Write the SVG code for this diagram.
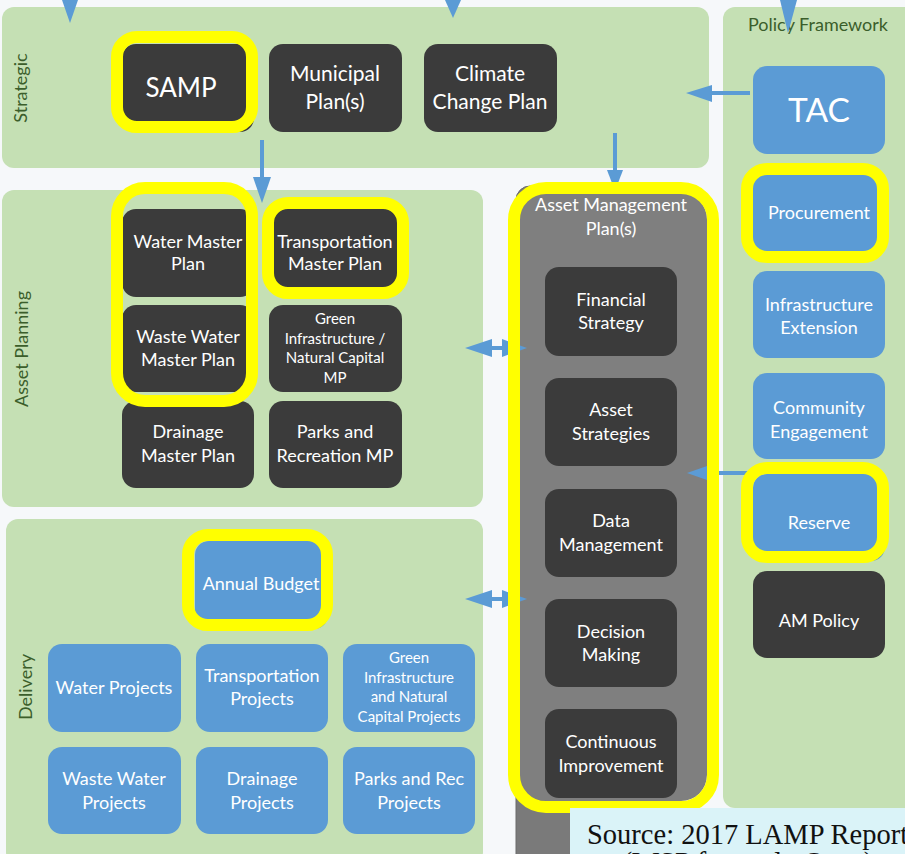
<svg xmlns="http://www.w3.org/2000/svg" width="905" height="854" viewBox="0 0 905 854">
  <style>
    .panel { fill: #c5e0b4; }
    .dark { fill: #3b3b3b; }
    .blue { fill: #5b9bd5; }
    .ring { fill: none; stroke: #ffff00; stroke-width: 12; }
    .lbl { font-family: Lato, "Liberation Sans", sans-serif; fill: #ffffff; text-anchor: middle; font-size: 18px; }
    .sm { font-size: 15px; }
    .zone { font-family: Lato, "Liberation Sans", sans-serif; fill: #3b5e2b; text-anchor: middle; font-size: 18px; }
    .conn { stroke: #5b9bd5; stroke-width: 4; fill: none; }
    .head { fill: #5b9bd5; }
    .src { font-family: "Liberation Serif", serif; font-size: 28.5px; fill: #111111; }
  </style>

  <rect x="0" y="0" width="905" height="854" fill="#f6f8fa"/>

  <!-- zone panels -->
  <g id="strategic">
    <rect class="panel" x="2" y="7" width="707" height="161" rx="12"/>
    <text class="zone" transform="translate(27 88) rotate(-90)">Strategic</text>
  </g>
  <g id="policy-framework">
    <rect class="panel" x="723" y="7" width="200" height="801" rx="12"/>
    <text class="zone" x="818" y="31">Policy Framework</text>
  </g>
  <g id="asset-planning">
    <rect class="panel" x="2" y="190" width="481" height="317" rx="12"/>
    <text class="zone" transform="translate(28 349) rotate(-90)">Asset Planning</text>
  </g>
  <g id="delivery">
    <rect class="panel" x="6" y="519" width="477" height="345" rx="12"/>
    <text class="zone" transform="translate(32 687) rotate(-90)">Delivery</text>
  </g>

  <!-- backing sheet behind the asset management plans -->
  <rect x="516" y="186" width="120" height="690" rx="14" fill="#7a7a7a" stroke="#6a6a6a" stroke-width="1"/>

  <!-- strategic nodes -->
  <g id="samp">
    <rect class="dark" x="122" y="44" width="132" height="88" rx="14"/>
    <text class="lbl" x="181" y="97" style="font-size:26px">SAMP</text>
  </g>
  <g id="municipal-plans">
    <rect class="dark" x="269" y="44" width="133" height="88" rx="14"/>
    <text class="lbl" x="335" y="81" style="font-size:21px">Municipal</text>
    <text class="lbl" x="335" y="109" style="font-size:21px">Plan(s)</text>
  </g>
  <g id="climate-change-plan">
    <rect class="dark" x="424" y="44" width="133" height="88" rx="14"/>
    <text class="lbl" x="490" y="81" style="font-size:21px">Climate</text>
    <text class="lbl" x="490" y="109" style="font-size:21px">Change Plan</text>
  </g>

  <!-- policy nodes -->
  <g id="tac">
    <rect class="blue" x="753" y="66" width="132" height="88" rx="14"/>
    <text class="lbl" x="819" y="122" style="font-size:33.5px">TAC</text>
  </g>
  <g id="procurement">
    <rect class="blue" x="753" y="169" width="132" height="88" rx="14"/>
    <text class="lbl" x="819" y="219">Procurement</text>
  </g>
  <g id="infrastructure-extension">
    <rect class="blue" x="753" y="271" width="132" height="87" rx="14"/>
    <text class="lbl" x="819" y="311">Infrastructure</text>
    <text class="lbl" x="819" y="334">Extension</text>
  </g>
  <g id="community-engagement">
    <rect class="blue" x="753" y="373" width="132" height="86" rx="14"/>
    <text class="lbl" x="819" y="414">Community</text>
    <text class="lbl" x="819" y="438">Engagement</text>
  </g>
  <g id="reserve">
    <rect class="blue" x="753" y="474" width="132" height="87" rx="14"/>
    <text class="lbl" x="819" y="529">Reserve</text>
  </g>
  <g id="am-policy">
    <rect class="dark" x="753" y="571" width="132" height="87" rx="14"/>
    <text class="lbl" x="819" y="627">AM Policy</text>
  </g>

  <!-- asset planning nodes -->
  <g id="water-master-plan">
    <rect class="dark" x="122" y="209" width="132" height="88" rx="14"/>
    <text class="lbl" x="188" y="248">Water Master</text>
    <text class="lbl" x="188" y="270">Plan</text>
  </g>
  <g id="waste-water-master-plan">
    <rect class="dark" x="122" y="305" width="132" height="87" rx="14"/>
    <text class="lbl" x="188" y="343">Waste Water</text>
    <text class="lbl" x="188" y="366">Master Plan</text>
  </g>
  <g id="drainage-master-plan">
    <rect class="dark" x="122" y="401" width="132" height="87" rx="14"/>
    <text class="lbl" x="188" y="438">Drainage</text>
    <text class="lbl" x="188" y="462">Master Plan</text>
  </g>
  <g id="transportation-master-plan">
    <rect class="dark" x="269" y="209" width="133" height="87" rx="14"/>
    <text class="lbl" x="335" y="248">Transportation</text>
    <text class="lbl" x="335" y="270">Master Plan</text>
  </g>
  <g id="green-infrastructure-mp">
    <rect class="dark" x="269" y="305" width="133" height="87" rx="14"/>
    <text class="lbl sm" x="335" y="324">Green</text>
    <text class="lbl sm" x="335" y="344">Infrastructure /</text>
    <text class="lbl sm" x="335" y="363">Natural Capital</text>
    <text class="lbl sm" x="335" y="383">MP</text>
  </g>
  <g id="parks-recreation-mp">
    <rect class="dark" x="269" y="401" width="133" height="87" rx="14"/>
    <text class="lbl" x="335" y="438">Parks and</text>
    <text class="lbl" x="335" y="462">Recreation MP</text>
  </g>

  <!-- delivery nodes -->
  <g id="annual-budget">
    <rect class="blue" x="195" y="541" width="133" height="88" rx="14"/>
    <text class="lbl" x="261" y="590">Annual Budget</text>
  </g>
  <g id="water-projects">
    <rect class="blue" x="48" y="644" width="133" height="88" rx="14"/>
    <text class="lbl" x="114" y="694">Water Projects</text>
  </g>
  <g id="transportation-projects">
    <rect class="blue" x="196" y="644" width="132" height="88" rx="14"/>
    <text class="lbl" x="262" y="682">Transportation</text>
    <text class="lbl" x="262" y="705">Projects</text>
  </g>
  <g id="green-capital-projects">
    <rect class="blue" x="343" y="644" width="132" height="88" rx="14"/>
    <text class="lbl sm" x="409" y="663">Green</text>
    <text class="lbl sm" x="409" y="683">Infrastructure</text>
    <text class="lbl sm" x="409" y="702">and Natural</text>
    <text class="lbl sm" x="409" y="722">Capital Projects</text>
  </g>
  <g id="waste-water-projects">
    <rect class="blue" x="48" y="747" width="133" height="87" rx="14"/>
    <text class="lbl" x="114" y="785">Waste Water</text>
    <text class="lbl" x="114" y="809">Projects</text>
  </g>
  <g id="drainage-projects">
    <rect class="blue" x="196" y="747" width="132" height="87" rx="14"/>
    <text class="lbl" x="262" y="785">Drainage</text>
    <text class="lbl" x="262" y="809">Projects</text>
  </g>
  <g id="parks-rec-projects">
    <rect class="blue" x="343" y="747" width="132" height="87" rx="14"/>
    <text class="lbl" x="409" y="785">Parks and Rec</text>
    <text class="lbl" x="409" y="809">Projects</text>
  </g>

  <!-- asset management plans container -->
  <g id="asset-management-plans">
    <rect x="520" y="193" width="187" height="608" rx="26" fill="#7f7f7f"/>
    <text class="lbl" x="611" y="211">Asset Management</text>
    <text class="lbl" x="611" y="235">Plan(s)</text>
  </g>
  <g id="financial-strategy">
    <rect class="dark" x="545" y="267" width="132" height="89" rx="14"/>
    <text class="lbl" x="611" y="306">Financial</text>
    <text class="lbl" x="611" y="329">Strategy</text>
  </g>
  <g id="asset-strategies">
    <rect class="dark" x="545" y="378" width="132" height="88" rx="14"/>
    <text class="lbl" x="611" y="416">Asset</text>
    <text class="lbl" x="611" y="440">Strategies</text>
  </g>
  <g id="data-management">
    <rect class="dark" x="545" y="489" width="132" height="88" rx="14"/>
    <text class="lbl" x="611" y="527">Data</text>
    <text class="lbl" x="611" y="551">Management</text>
  </g>
  <g id="decision-making">
    <rect class="dark" x="545" y="599" width="132" height="88" rx="14"/>
    <text class="lbl" x="611" y="638">Decision</text>
    <text class="lbl" x="611" y="661">Making</text>
  </g>
  <g id="continuous-improvement">
    <rect class="dark" x="545" y="709" width="132" height="89" rx="14"/>
    <text class="lbl" x="611" y="748">Continuous</text>
    <text class="lbl" x="611" y="772">Improvement</text>
  </g>

  <!-- connectors -->
  <g id="connectors">
    <!-- incoming from above -->
    <polygon class="head" points="62,0 78,0 70,23"/>
    <polygon class="head" points="445,0 461,0 453,18"/>
    <polygon class="head" points="780,0 797,0 788,33"/>
    <!-- TAC to strategic -->
    <line class="conn" x1="750" y1="93" x2="710" y2="93"/>
    <polygon class="head" points="712,85 712,102 686,93"/>
    <!-- SAMP down to asset planning -->
    <line class="conn" x1="262" y1="140" x2="262" y2="180"/>
    <polygon class="head" points="253,177 271,177 262,203"/>
    <!-- climate change plan down to asset management -->
    <line class="conn" x1="615" y1="133" x2="615" y2="172"/>
    <polygon class="head" points="607,170 623,170 615,191"/>
    <!-- asset planning <-> asset management -->
    <line class="conn" x1="490" y1="348" x2="504" y2="348"/>
    <polygon class="head" points="492,339 492,357 465,348"/>
    <polygon class="head" points="502,339 502,357 527,348"/>
    <!-- delivery <-> asset management -->
    <line class="conn" x1="490" y1="599" x2="504" y2="599"/>
    <polygon class="head" points="492,590 492,608 465,599"/>
    <polygon class="head" points="502,590 502,608 527,599"/>
    <!-- reserve to asset management -->
    <line class="conn" x1="750" y1="473" x2="705" y2="473"/>
    <polygon class="head" points="707,466 707,480 687,473"/>
  </g>

  <!-- highlight rings -->
  <g id="highlights">
    <rect class="ring" x="117" y="37" width="135" height="90" rx="20"/>
    <rect class="ring" x="117" y="188" width="135" height="213" rx="28"/>
    <rect class="ring" x="268" y="203" width="135" height="90" rx="20"/>
    <rect class="ring" x="188" y="535" width="139" height="90" rx="20"/>
    <rect class="ring" x="747" y="169" width="136" height="88" rx="20"/>
    <rect class="ring" x="747" y="468" width="136" height="89" rx="20"/>
    <rect class="ring" x="514" y="188" width="199" height="619" rx="32"/>
  </g>

  <!-- source note -->
  <g id="source-note">
    <rect x="570" y="808" width="340" height="50" fill="#daf3f8"/>
    <text class="src" x="587" y="844">Source: 2017 LAMP Report</text>
    <text class="src" x="748" y="872" text-anchor="middle">(WSP formerly Opus)</text>
  </g>
</svg>
